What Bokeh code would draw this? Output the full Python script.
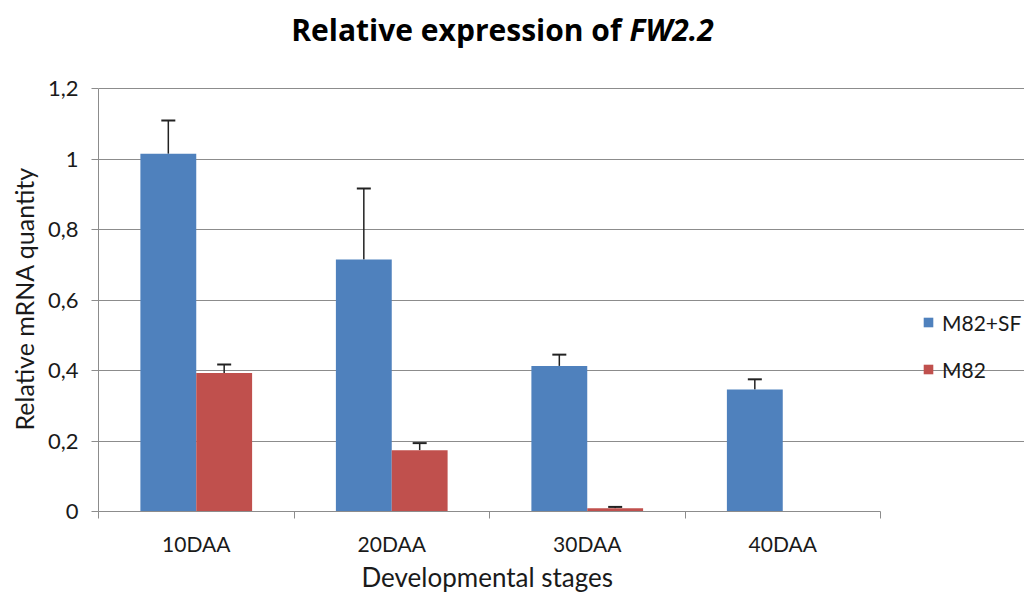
import numpy as np
from bokeh.plotting import figure
from bokeh.models import (Range1d, FixedTicker, CustomJSTickFormatter, ColumnDataSource,
                          Whisker, TeeHead, Label, Title)
from bokeh.embed import file_html
from bokeh.resources import INLINE

# ---------------- data ----------------
stages = ["10DAA", "20DAA", "30DAA", "40DAA"]
series_names = ["M82+SF", "M82"]
m82sf = [1.015, 0.715, 0.413, 0.346]
m82sf_err = [0.094, 0.201, 0.032, 0.029]
m82 = [0.393, 0.174, 0.009, 0.0]
m82_err = [0.024, 0.020, 0.004, 0.0]
y_ticks = [0, 0.2, 0.4, 0.6, 0.8, 1.0, 1.2]
title_plain = "Relative expression of"
title_italic = "FW2.2"
x_title = "Developmental stages"
y_title = "Relative mRNA quantity"

# ---------------- styling / layout ----------------
FONT = "Lato"
TITLE_FONT = "Open Sans"
BLUE = "#4F81BD"
RED = "#C0504D"
GRID = "#8C8C8C"
TXT = "#1A1A1A"
W, H = 1024, 596
# plot area (axes box) in page pixels
PL, PR, PT, PB = 98, 880, 88, 511

n = len(stages)
y_max = y_ticks[-1]
bar_w = 1 / 3.5
centers = np.arange(n) + 0.5

# the frame spans from PL to the right edge and from the top edge to PB,
# so that title and legend can live inside it; axes/grid are bounded.
px_x = (PR - PL) / n
px_y = (PB - PT) / y_max
x_end = (W - PL) / px_x
y_end = PB / px_y

p = figure(width=W, height=H, x_range=Range1d(0, x_end), y_range=Range1d(0, y_end),
           output_backend="svg", toolbar_location=None,
           min_border_left=PL, min_border_right=0, min_border_top=0,
           min_border_bottom=H - PB)
p.outline_line_color = None

src_a = ColumnDataSource(dict(x=centers - bar_w / 2, top=m82sf,
                              upper=np.array(m82sf) + np.array(m82sf_err), base=m82sf))
src_b = ColumnDataSource(dict(x=centers + bar_w / 2, top=m82))

p.vbar(x="x", top="top", width=bar_w, source=src_a, fill_color=BLUE, line_color=None,
       legend_label=series_names[0])
p.vbar(x="x", top="top", width=bar_w, source=src_b, fill_color=RED, line_color=None,
       legend_label=series_names[1])

# error bars (only where there is an error value)
keep = [i for i in range(n) if m82_err[i] > 0]
src_b_err = ColumnDataSource(dict(x=[centers[i] + bar_w / 2 for i in keep],
                                  upper=[m82[i] + m82_err[i] for i in keep],
                                  base=[m82[i] for i in keep]))
for s in (src_a, src_b_err):
    w = Whisker(source=s, base="x", upper="upper", lower="base", dimension="height",
                line_color="#222222", line_width=1.5, lower_head=None,
                upper_head=TeeHead(size=14, line_color="#222222", line_width=2))
    p.add_layout(w)

# y axis
p.yaxis.bounds = (0, y_max)
p.yaxis.ticker = FixedTicker(ticks=y_ticks)
p.yaxis.formatter = CustomJSTickFormatter(code="""
    var s = parseFloat(tick.toFixed(1)).toString();
    return s.replace('.', ',');
""")
p.yaxis.axis_line_color = GRID
p.yaxis.major_tick_line_color = GRID
p.yaxis.major_tick_out = 7
p.yaxis.major_tick_in = 0
p.yaxis.minor_tick_line_color = None
p.yaxis.major_label_standoff = 13
p.yaxis.major_label_text_font = FONT
p.yaxis.major_label_text_font_size = "22px"
p.yaxis.major_label_text_color = TXT

# y-axis title, centred on the plot area (not on the whole frame)
p.add_layout(Title(text=y_title, align="left", offset=PB - 430, standoff=12,
                   text_font=FONT, text_font_style="normal", text_font_size="25px",
                   text_color=TXT), "left")

# x axis: labels at centres, ticks at category boundaries
p.xaxis.bounds = (0, n)
p.xaxis.ticker = FixedTicker(ticks=list(centers), minor_ticks=list(range(n + 1)))
p.xaxis.formatter = CustomJSTickFormatter(args=dict(labels=stages), code="""
    return labels[Math.floor(tick)];
""")
p.xaxis.axis_line_color = GRID
p.xaxis.major_tick_line_color = None
p.xaxis.major_tick_out = 0
p.xaxis.major_tick_in = 0
p.xaxis.minor_tick_line_color = GRID
p.xaxis.minor_tick_out = 7
p.xaxis.minor_tick_in = 0
p.xaxis.major_label_standoff = 12
p.xaxis.major_label_text_font = FONT
p.xaxis.major_label_text_font_size = "21px"
p.xaxis.major_label_text_color = TXT

# x-axis title, centred under the plot area (not under the whole frame)
p.add_layout(Title(text=x_title, align="left", offset=361 - PL, standoff=0,
                   text_font=FONT, text_font_style="normal", text_font_size="26px",
                   text_color=TXT), "below")

p.xgrid.grid_line_color = None
p.ygrid.grid_line_color = GRID
p.ygrid.grid_line_width = 1.2
p.ygrid.bounds = (0, n)

# chart title in two parts (plain bold + bold italic), placed above the plot area
ty = y_max + (PT - 29) / px_y
p.add_layout(Label(x=(621 - PL) / px_x, y=ty, text=title_plain, text_align="right",
                   text_baseline="middle", text_font=TITLE_FONT, text_font_style="bold",
                   text_font_size="30px", text_color="black"))
p.add_layout(Label(x=(629 - PL) / px_x, y=ty, text=title_italic, text_align="left",
                   text_baseline="middle", text_font=TITLE_FONT,
                   text_font_style="bold italic", text_font_size="30px", text_color="black"))

# legend to the right of the plot area
lg = p.legend[0]
lg.location = (922 - PL, PB - 382)
lg.orientation = "vertical"
lg.border_line_color = None
lg.background_fill_alpha = 0
lg.padding = 0
lg.margin = 0
lg.glyph_width = 12
lg.glyph_height = 12
lg.label_height = 26
lg.spacing = 21
lg.label_standoff = 8
lg.label_text_font = FONT
lg.label_text_font_size = "21px"
lg.label_text_color = TXT

open("out.html", "w").write(file_html(p, INLINE))
